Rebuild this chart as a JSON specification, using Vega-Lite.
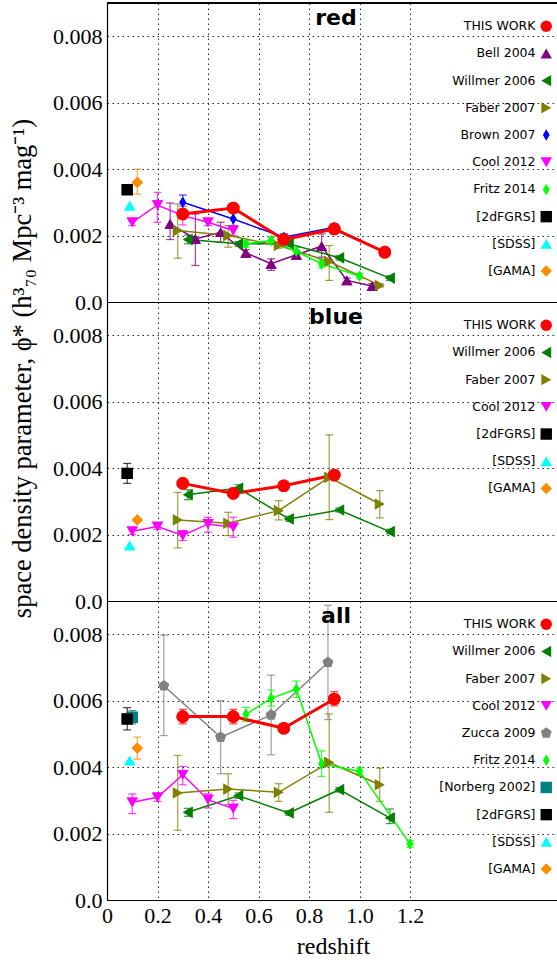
{
  "$schema": "https://vega.github.io/schema/vega-lite/v6.json",
  "padding": {"left": 8, "top": 2, "right": 0, "bottom": 0},
  "spacing": 0,
  "bounds": "flush",
  "background": "white",
  "datasets": {
    "red": [
      {"s": "Bell 2004", "z": 0.25, "v": 0.00235, "lo": 0.00188, "hi": 0.00298},
      {"s": "Bell 2004", "z": 0.35, "v": 0.0019, "lo": 0.0011, "hi": 0.00265},
      {"s": "Bell 2004", "z": 0.45, "v": 0.0021, "lo": 0.0018, "hi": 0.0024},
      {"s": "Bell 2004", "z": 0.55, "v": 0.00148, "lo": 0.00138, "hi": 0.00158},
      {"s": "Bell 2004", "z": 0.65, "v": 0.00115, "lo": 0.00095, "hi": 0.0013},
      {"s": "Bell 2004", "z": 0.75, "v": 0.00142, "lo": 0.0013, "hi": 0.00155},
      {"s": "Bell 2004", "z": 0.85, "v": 0.00168, "lo": 0.00135, "hi": 0.00205},
      {"s": "Bell 2004", "z": 0.95, "v": 0.00065, "lo": 0.00058, "hi": 0.00072},
      {"s": "Bell 2004", "z": 1.05, "v": 0.00048, "lo": 0.00042, "hi": 0.00055},
      {"s": "Willmer 2006", "z": 0.32, "v": 0.00188, "lo": 0.00175, "hi": 0.00201},
      {"s": "Willmer 2006", "z": 0.52, "v": 0.00175, "lo": 0.00168, "hi": 0.00182},
      {"s": "Willmer 2006", "z": 0.72, "v": 0.00175, "lo": 0.00168, "hi": 0.00182},
      {"s": "Willmer 2006", "z": 0.92, "v": 0.00133, "lo": 0.00126, "hi": 0.0014},
      {"s": "Willmer 2006", "z": 1.12, "v": 0.00072, "lo": 0.00065, "hi": 0.00079},
      {"s": "Faber 2007", "z": 0.28, "v": 0.00215, "lo": 0.00132, "hi": 0.00295},
      {"s": "Faber 2007", "z": 0.48, "v": 0.002, "lo": 0.00165, "hi": 0.0023},
      {"s": "Faber 2007", "z": 0.68, "v": 0.0017, "lo": 0.00162, "hi": 0.00178},
      {"s": "Faber 2007", "z": 0.88, "v": 0.00122, "lo": 0.00065, "hi": 0.0017},
      {"s": "Faber 2007", "z": 1.08, "v": 0.0005, "lo": 0.00045, "hi": 0.00055},
      {"s": "Brown 2007", "z": 0.3, "v": 0.003, "lo": 0.00278, "hi": 0.00322},
      {"s": "Brown 2007", "z": 0.5, "v": 0.0025, "lo": 0.0023, "hi": 0.0027},
      {"s": "Brown 2007", "z": 0.7, "v": 0.00195, "lo": 0.00185, "hi": 0.00205},
      {"s": "Brown 2007", "z": 0.9, "v": 0.00225, "lo": 0.00215, "hi": 0.00235},
      {"s": "Cool 2012", "z": 0.1, "v": 0.0024, "lo": 0.0023, "hi": 0.0025},
      {"s": "Cool 2012", "z": 0.2, "v": 0.00292, "lo": 0.0024, "hi": 0.0033},
      {"s": "Cool 2012", "z": 0.3, "v": 0.0026, "lo": 0.00232, "hi": 0.00288},
      {"s": "Cool 2012", "z": 0.4, "v": 0.0024, "lo": 0.0023, "hi": 0.0025},
      {"s": "Cool 2012", "z": 0.5, "v": 0.00215, "lo": 0.002, "hi": 0.0023},
      {"s": "Fritz 2014", "z": 0.55, "v": 0.00175, "lo": 0.00165, "hi": 0.00185},
      {"s": "Fritz 2014", "z": 0.65, "v": 0.00185, "lo": 0.00175, "hi": 0.00195},
      {"s": "Fritz 2014", "z": 0.75, "v": 0.00152, "lo": 0.0014, "hi": 0.00164},
      {"s": "Fritz 2014", "z": 0.85, "v": 0.00115, "lo": 0.00103, "hi": 0.00127},
      {"s": "Fritz 2014", "z": 1.0, "v": 0.00078, "lo": 0.0007, "hi": 0.00086},
      {"s": "[2dFGRS]", "z": 0.08, "v": 0.00338, "lo": null, "hi": null},
      {"s": "[SDSS]", "z": 0.09, "v": 0.0029, "lo": null, "hi": null},
      {"s": "[GAMA]", "z": 0.12, "v": 0.0036, "lo": 0.00325, "hi": 0.004},
      {"s": "THIS WORK", "z": 0.3, "v": 0.00265, "lo": 0.00253, "hi": 0.00277},
      {"s": "THIS WORK", "z": 0.5, "v": 0.00283, "lo": 0.00271, "hi": 0.00295},
      {"s": "THIS WORK", "z": 0.7, "v": 0.00188, "lo": 0.00178, "hi": 0.00198},
      {"s": "THIS WORK", "z": 0.9, "v": 0.0022, "lo": 0.00208, "hi": 0.00232},
      {"s": "THIS WORK", "z": 1.1, "v": 0.0015, "lo": 0.0014, "hi": 0.0016}
    ],
    "blue": [
      {"s": "Willmer 2006", "z": 0.32, "v": 0.0032, "lo": 0.00305, "hi": 0.00335},
      {"s": "Willmer 2006", "z": 0.52, "v": 0.0034, "lo": 0.0033, "hi": 0.0035},
      {"s": "Willmer 2006", "z": 0.72, "v": 0.00247, "lo": 0.0024, "hi": 0.00255},
      {"s": "Willmer 2006", "z": 0.92, "v": 0.00274, "lo": 0.00268, "hi": 0.0028},
      {"s": "Willmer 2006", "z": 1.12, "v": 0.00209, "lo": 0.00202, "hi": 0.00216},
      {"s": "Faber 2007", "z": 0.28, "v": 0.00244, "lo": 0.0016, "hi": 0.00327},
      {"s": "Faber 2007", "z": 0.48, "v": 0.00234, "lo": 0.00197, "hi": 0.00267},
      {"s": "Faber 2007", "z": 0.68, "v": 0.00272, "lo": 0.00244, "hi": 0.00302},
      {"s": "Faber 2007", "z": 0.88, "v": 0.00372, "lo": 0.00245, "hi": 0.005},
      {"s": "Faber 2007", "z": 1.08, "v": 0.00292, "lo": 0.0025, "hi": 0.00332},
      {"s": "Cool 2012", "z": 0.1, "v": 0.0021, "lo": 0.002, "hi": 0.0022},
      {"s": "Cool 2012", "z": 0.2, "v": 0.00224, "lo": 0.00216, "hi": 0.00232},
      {"s": "Cool 2012", "z": 0.3, "v": 0.00197, "lo": 0.00182, "hi": 0.00212},
      {"s": "Cool 2012", "z": 0.4, "v": 0.00232, "lo": 0.00207, "hi": 0.00252},
      {"s": "Cool 2012", "z": 0.5, "v": 0.00222, "lo": 0.00192, "hi": 0.00252},
      {"s": "[2dFGRS]", "z": 0.08, "v": 0.00384, "lo": 0.00354, "hi": 0.00414},
      {"s": "[SDSS]", "z": 0.09, "v": 0.00167, "lo": null, "hi": null},
      {"s": "[GAMA]", "z": 0.12, "v": 0.00244, "lo": null, "hi": null},
      {"s": "THIS WORK", "z": 0.3, "v": 0.00354, "lo": null, "hi": null},
      {"s": "THIS WORK", "z": 0.5, "v": 0.00324, "lo": null, "hi": null},
      {"s": "THIS WORK", "z": 0.7, "v": 0.00347, "lo": null, "hi": null},
      {"s": "THIS WORK", "z": 0.9, "v": 0.00379, "lo": null, "hi": null}
    ],
    "all": [
      {"s": "Willmer 2006", "z": 0.32, "v": 0.00264, "lo": 0.00252, "hi": 0.00276},
      {"s": "Willmer 2006", "z": 0.52, "v": 0.00314, "lo": 0.00306, "hi": 0.00322},
      {"s": "Willmer 2006", "z": 0.72, "v": 0.00262, "lo": 0.00255, "hi": 0.00269},
      {"s": "Willmer 2006", "z": 0.92, "v": 0.00332, "lo": 0.00325, "hi": 0.00339},
      {"s": "Willmer 2006", "z": 1.12, "v": 0.00247, "lo": 0.0023, "hi": 0.00274},
      {"s": "Faber 2007", "z": 0.28, "v": 0.00322, "lo": 0.0021, "hi": 0.00435},
      {"s": "Faber 2007", "z": 0.48, "v": 0.00334, "lo": 0.00287, "hi": 0.0038},
      {"s": "Faber 2007", "z": 0.68, "v": 0.00324, "lo": 0.00297, "hi": 0.0035},
      {"s": "Faber 2007", "z": 0.88, "v": 0.00414, "lo": 0.00264, "hi": 0.0056},
      {"s": "Faber 2007", "z": 1.08, "v": 0.00347, "lo": 0.00297, "hi": 0.00397},
      {"s": "Cool 2012", "z": 0.1, "v": 0.00294, "lo": 0.0026, "hi": 0.00319},
      {"s": "Cool 2012", "z": 0.2, "v": 0.00309, "lo": 0.00297, "hi": 0.00321},
      {"s": "Cool 2012", "z": 0.3, "v": 0.00377, "lo": 0.00347, "hi": 0.00402},
      {"s": "Cool 2012", "z": 0.4, "v": 0.00302, "lo": 0.00277, "hi": 0.0032},
      {"s": "Cool 2012", "z": 0.5, "v": 0.00275, "lo": 0.00245, "hi": 0.003},
      {"s": "Zucca 2009", "z": 0.225, "v": 0.00645, "lo": 0.00495, "hi": 0.00797},
      {"s": "Zucca 2009", "z": 0.45, "v": 0.0049, "lo": 0.0038, "hi": 0.006},
      {"s": "Zucca 2009", "z": 0.65, "v": 0.00557, "lo": 0.00437, "hi": 0.00677},
      {"s": "Zucca 2009", "z": 0.875, "v": 0.00715, "lo": 0.00543, "hi": 0.00887},
      {"s": "Fritz 2014", "z": 0.55, "v": 0.00559, "lo": 0.00537, "hi": 0.0058},
      {"s": "Fritz 2014", "z": 0.65, "v": 0.00607, "lo": 0.00584, "hi": 0.00632},
      {"s": "Fritz 2014", "z": 0.75, "v": 0.00635, "lo": 0.0061, "hi": 0.00659},
      {"s": "Fritz 2014", "z": 0.85, "v": 0.0041, "lo": 0.00372, "hi": 0.00449},
      {"s": "Fritz 2014", "z": 1.0, "v": 0.00387, "lo": 0.00377, "hi": 0.00397},
      {"s": "Fritz 2014", "z": 1.2, "v": 0.00169, "lo": 0.00159, "hi": 0.00179},
      {"s": "[Norberg 2002]", "z": 0.1, "v": 0.0055, "lo": 0.0053, "hi": 0.0057},
      {"s": "[2dFGRS]", "z": 0.08, "v": 0.00545, "lo": 0.00512, "hi": 0.00579},
      {"s": "[SDSS]", "z": 0.09, "v": 0.0042, "lo": null, "hi": null},
      {"s": "[GAMA]", "z": 0.12, "v": 0.00457, "lo": 0.00424, "hi": 0.0049},
      {"s": "THIS WORK", "z": 0.3, "v": 0.00552, "lo": 0.0053, "hi": 0.00574},
      {"s": "THIS WORK", "z": 0.5, "v": 0.00552, "lo": 0.0053, "hi": 0.00574},
      {"s": "THIS WORK", "z": 0.7, "v": 0.00517, "lo": null, "hi": null},
      {"s": "THIS WORK", "z": 0.9, "v": 0.00605, "lo": 0.00584, "hi": 0.00627}
    ]
  },
  "vconcat": [
    {
      "width": 452, "height": 299,
      "data": {"name": "red"},
      "layer": [
        {"mark": {"type": "point", "filled": true, "opacity": 1},
         "encoding": {
           "x": {"field": "z", "type": "quantitative", "scale": {"domain": [0, 1.79], "nice": false, "zero": false}, "axis": {"values": [0,0.2,0.4,0.6,0.8,1.0,1.2], "labels": false, "title": null, "grid": true}},
           "y": {"field": "v", "type": "quantitative", "scale": {"domain": [0, 0.009], "nice": false}, "axis": {"values": [0,0.002,0.004,0.006,0.008], "labelExpr": "datum.value == 0 ? '0.0' : format(datum.value, '.3f')", "title": null, "grid": true}},
           "color": {"field": "s", "type": "nominal", "scale": {"domain": ["THIS WORK","Bell 2004","Willmer 2006","Faber 2007","Brown 2007","Cool 2012","Fritz 2014","[2dFGRS]","[SDSS]","[GAMA]"], "range": ["#ff0000","#800080","#007f00","#808000","#0000ff","#ff00ff","#00ff00","#000000","#00ffff","#ff8c00"]}, "legend": {"title": null}},
           "shape": {"field": "s", "type": "nominal", "scale": {"domain": ["THIS WORK","Bell 2004","Willmer 2006","Faber 2007","Brown 2007","Cool 2012","Fritz 2014","[2dFGRS]","[SDSS]","[GAMA]"], "range": ["circle","triangle-up","triangle-left","triangle-right","M0,-1L0.6,0L0,1L-0.6,0Z","triangle-down","M0,-1L0.6,0L0,1L-0.6,0Z","square","triangle-up","diamond"]}, "legend": {"title": null}},
           "size": {"condition": {"test": "datum.s === 'THIS WORK'", "value": 160}, "value": 125}
         }},
        {"mark": {"type": "rule", "color": "#000", "strokeWidth": 1.2},
         "encoding": {"y": {"datum": 0.009, "type": "quantitative"}}},
        {"mark": {"type": "rule", "strokeWidth": 1.2, "opacity": 0.75},
         "transform": [{"filter": "datum.lo != null"}],
         "encoding": {
           "x": {"field": "z", "type": "quantitative"},
           "y": {"field": "lo", "type": "quantitative"},
           "y2": {"field": "hi"},
           "color": {"field": "s", "type": "nominal", "legend": null}
         }},
        {"mark": {"type": "tick", "orient": "horizontal", "size": 8, "thickness": 1.2, "opacity": 0.75},
         "transform": [{"filter": "datum.lo != null"}],
         "encoding": {
           "x": {"field": "z", "type": "quantitative"},
           "y": {"field": "lo", "type": "quantitative"},
           "color": {"field": "s", "type": "nominal", "legend": null}
         }},
        {"mark": {"type": "tick", "orient": "horizontal", "size": 8, "thickness": 1.2, "opacity": 0.75},
         "transform": [{"filter": "datum.lo != null"}],
         "encoding": {
           "x": {"field": "z", "type": "quantitative"},
           "y": {"field": "hi", "type": "quantitative"},
           "color": {"field": "s", "type": "nominal", "legend": null}
         }},
        {"mark": {"type": "line"},
         "encoding": {
           "x": {"field": "z", "type": "quantitative"},
           "y": {"field": "v", "type": "quantitative"},
           "color": {"field": "s", "type": "nominal", "legend": null},
           "order": {"field": "z", "type": "quantitative"},
           "strokeWidth": {"condition": {"test": "datum.s === 'THIS WORK'", "value": 3}, "value": 1.5}
         }},
        {"mark": {"type": "point", "filled": true, "opacity": 1},
         "encoding": {
           "x": {"field": "z", "type": "quantitative"},
           "y": {"field": "v", "type": "quantitative"},
           "color": {"field": "s", "type": "nominal", "legend": null},
           "shape": {"field": "s", "type": "nominal", "legend": null},
           "size": {"condition": {"test": "datum.s === 'THIS WORK'", "value": 160}, "value": 125}
         }},
        {"data": {"values": [{"label": "red"}]},
         "mark": {"type": "text", "font": "DejaVu Sans", "fontSize": 22, "fontWeight": "bold", "align": "center", "baseline": "alphabetic", "color": "#000"},
         "encoding": {
           "x": {"datum": 0.907, "type": "quantitative"},
           "y": {"datum": 0.00834, "type": "quantitative"},
           "text": {"field": "label"}
         }}
      ]
    },
    {
      "width": 452, "height": 299,
      "data": {"name": "blue"},
      "layer": [
        {"mark": {"type": "point", "filled": true, "opacity": 1},
         "encoding": {
           "x": {"field": "z", "type": "quantitative", "scale": {"domain": [0, 1.79], "nice": false, "zero": false}, "axis": {"values": [0,0.2,0.4,0.6,0.8,1.0,1.2], "labels": false, "title": null, "grid": true}},
           "y": {"field": "v", "type": "quantitative", "scale": {"domain": [0, 0.009], "nice": false}, "axis": {"values": [0,0.002,0.004,0.006,0.008], "labelExpr": "datum.value == 0 ? '0.0' : format(datum.value, '.3f')", "grid": true, "title": "space density parameter, ϕ* (h³₇₀ Mpc⁻³ mag⁻¹)", "titleFontSize": 26.5, "titleX": -77, "titleY": 66, "titleAlign": "center", "titleBaseline": "alphabetic", "titleAngle": -90}},
           "color": {"field": "s", "type": "nominal", "scale": {"domain": ["THIS WORK","Willmer 2006","Faber 2007","Cool 2012","[2dFGRS]","[SDSS]","[GAMA]"], "range": ["#ff0000","#007f00","#808000","#ff00ff","#000000","#00ffff","#ff8c00"]}, "legend": {"title": null}},
           "shape": {"field": "s", "type": "nominal", "scale": {"domain": ["THIS WORK","Willmer 2006","Faber 2007","Cool 2012","[2dFGRS]","[SDSS]","[GAMA]"], "range": ["circle","triangle-left","triangle-right","triangle-down","square","triangle-up","diamond"]}, "legend": {"title": null}},
           "size": {"condition": {"test": "datum.s === 'THIS WORK'", "value": 160}, "value": 125}
         }},
        {"mark": {"type": "rule", "strokeWidth": 1.2, "opacity": 0.75},
         "transform": [{"filter": "datum.lo != null"}],
         "encoding": {
           "x": {"field": "z", "type": "quantitative"},
           "y": {"field": "lo", "type": "quantitative"},
           "y2": {"field": "hi"},
           "color": {"field": "s", "type": "nominal", "legend": null}
         }},
        {"mark": {"type": "tick", "orient": "horizontal", "size": 8, "thickness": 1.2, "opacity": 0.75},
         "transform": [{"filter": "datum.lo != null"}],
         "encoding": {
           "x": {"field": "z", "type": "quantitative"},
           "y": {"field": "lo", "type": "quantitative"},
           "color": {"field": "s", "type": "nominal", "legend": null}
         }},
        {"mark": {"type": "tick", "orient": "horizontal", "size": 8, "thickness": 1.2, "opacity": 0.75},
         "transform": [{"filter": "datum.lo != null"}],
         "encoding": {
           "x": {"field": "z", "type": "quantitative"},
           "y": {"field": "hi", "type": "quantitative"},
           "color": {"field": "s", "type": "nominal", "legend": null}
         }},
        {"mark": {"type": "line"},
         "encoding": {
           "x": {"field": "z", "type": "quantitative"},
           "y": {"field": "v", "type": "quantitative"},
           "color": {"field": "s", "type": "nominal", "legend": null},
           "order": {"field": "z", "type": "quantitative"},
           "strokeWidth": {"condition": {"test": "datum.s === 'THIS WORK'", "value": 3}, "value": 1.5}
         }},
        {"mark": {"type": "point", "filled": true, "opacity": 1},
         "encoding": {
           "x": {"field": "z", "type": "quantitative"},
           "y": {"field": "v", "type": "quantitative"},
           "color": {"field": "s", "type": "nominal", "legend": null},
           "shape": {"field": "s", "type": "nominal", "legend": null},
           "size": {"condition": {"test": "datum.s === 'THIS WORK'", "value": 160}, "value": 125}
         }},
        {"data": {"values": [{"label": "blue"}]},
         "mark": {"type": "text", "font": "DejaVu Sans", "fontSize": 22, "fontWeight": "bold", "align": "center", "baseline": "alphabetic", "color": "#000"},
         "encoding": {
           "x": {"datum": 0.907, "type": "quantitative"},
           "y": {"datum": 0.00834, "type": "quantitative"},
           "text": {"field": "label"}
         }}
      ]
    },
    {
      "width": 452, "height": 299,
      "data": {"name": "all"},
      "layer": [
        {"mark": {"type": "point", "filled": true, "opacity": 1},
         "encoding": {
           "x": {"field": "z", "type": "quantitative", "scale": {"domain": [0, 1.79], "nice": false, "zero": false}, "axis": {"values": [0,0.2,0.4,0.6,0.8,1.0,1.2], "labelExpr": "datum.value == 0 ? '0' : format(datum.value, '.1f')", "title": "redshift", "grid": true}},
           "y": {"field": "v", "type": "quantitative", "scale": {"domain": [0, 0.009], "nice": false}, "axis": {"values": [0,0.002,0.004,0.006,0.008], "labelExpr": "datum.value == 0 ? '0.0' : format(datum.value, '.3f')", "title": null, "grid": true}},
           "color": {"field": "s", "type": "nominal", "scale": {"domain": ["THIS WORK","Willmer 2006","Faber 2007","Cool 2012","Zucca 2009","Fritz 2014","[Norberg 2002]","[2dFGRS]","[SDSS]","[GAMA]"], "range": ["#ff0000","#007f00","#808000","#ff00ff","#808080","#00ff00","#008080","#000000","#00ffff","#ff8c00"]}, "legend": {"title": null}},
           "shape": {"field": "s", "type": "nominal", "scale": {"domain": ["THIS WORK","Willmer 2006","Faber 2007","Cool 2012","Zucca 2009","Fritz 2014","[Norberg 2002]","[2dFGRS]","[SDSS]","[GAMA]"], "range": ["circle","triangle-left","triangle-right","triangle-down","M0,-1L0.951,-0.309L0.588,0.809L-0.588,0.809L-0.951,-0.309Z","M0,-1L0.6,0L0,1L-0.6,0Z","square","square","triangle-up","diamond"]}, "legend": {"title": null}},
           "size": {"condition": {"test": "datum.s === 'THIS WORK'", "value": 160}, "value": 125}
         }},
        {"mark": {"type": "rule", "strokeWidth": 1.2, "opacity": 0.75},
         "transform": [{"filter": "datum.lo != null"}],
         "encoding": {
           "x": {"field": "z", "type": "quantitative"},
           "y": {"field": "lo", "type": "quantitative"},
           "y2": {"field": "hi"},
           "color": {"field": "s", "type": "nominal", "legend": null}
         }},
        {"mark": {"type": "tick", "orient": "horizontal", "size": 8, "thickness": 1.2, "opacity": 0.75},
         "transform": [{"filter": "datum.lo != null"}],
         "encoding": {
           "x": {"field": "z", "type": "quantitative"},
           "y": {"field": "lo", "type": "quantitative"},
           "color": {"field": "s", "type": "nominal", "legend": null}
         }},
        {"mark": {"type": "tick", "orient": "horizontal", "size": 8, "thickness": 1.2, "opacity": 0.75},
         "transform": [{"filter": "datum.lo != null"}],
         "encoding": {
           "x": {"field": "z", "type": "quantitative"},
           "y": {"field": "hi", "type": "quantitative"},
           "color": {"field": "s", "type": "nominal", "legend": null}
         }},
        {"mark": {"type": "line"},
         "encoding": {
           "x": {"field": "z", "type": "quantitative"},
           "y": {"field": "v", "type": "quantitative"},
           "color": {"field": "s", "type": "nominal", "legend": null},
           "order": {"field": "z", "type": "quantitative"},
           "strokeWidth": {"condition": {"test": "datum.s === 'THIS WORK'", "value": 3}, "value": 1.5}
         }},
        {"mark": {"type": "point", "filled": true, "opacity": 1},
         "encoding": {
           "x": {"field": "z", "type": "quantitative"},
           "y": {"field": "v", "type": "quantitative"},
           "color": {"field": "s", "type": "nominal", "legend": null},
           "shape": {"field": "s", "type": "nominal", "legend": null},
           "size": {"condition": {"test": "datum.s === 'THIS WORK'", "value": 160}, "value": 125}
         }},
        {"data": {"values": [{"label": "all"}]},
         "mark": {"type": "text", "font": "DejaVu Sans", "fontSize": 22, "fontWeight": "bold", "align": "center", "baseline": "alphabetic", "color": "#000"},
         "encoding": {
           "x": {"datum": 0.907, "type": "quantitative"},
           "y": {"datum": 0.00834, "type": "quantitative"},
           "text": {"field": "label"}
         }}
      ]
    }
  ],
  "resolve": {"scale": {"color": "independent", "shape": "independent"}},
  "config": {
    "view": {"stroke": null},
    "axis": {
      "labelFont": "Liberation Serif", "labelFontSize": 22, "labelColor": "#000",
      "titleFont": "Liberation Serif", "titleFontSize": 24, "titleFontWeight": "normal", "titleColor": "#000",
      "domainColor": "#000", "domainWidth": 1.2,
      "ticks": false, "tickSize": 0, "labelPadding": 5, "titlePadding": 8,
      "gridColor": "#000", "gridDash": [1.5, 3.5], "gridWidth": 1, "gridOpacity": 0.85,
      "labelOverlap": false, "labelFlush": false
    },
    "legend": {
      "orient": "none", "legendX": 433, "legendY": 17,
      "labelAlign": "right", "labelOffset": -17, "labelFont": "DejaVu Sans", "labelFontSize": 12.5, "labelColor": "#000",
      "symbolSize": 130, "symbolStrokeWidth": 0, "rowPadding": 14.2, "padding": 0, "labelLimit": 300
    }
  }
}
